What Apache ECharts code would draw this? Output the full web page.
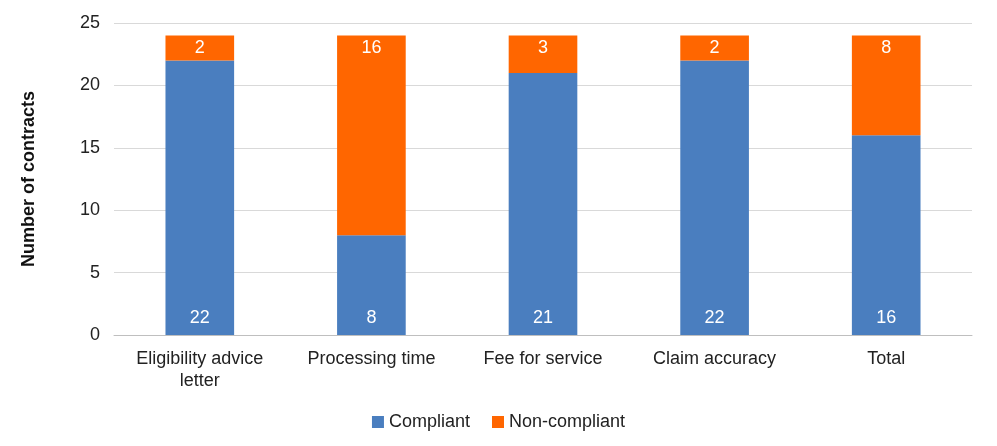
<!DOCTYPE html>
<html>
<head>
<meta charset="utf-8">
<script src="https://cdn.jsdelivr.net/npm/echarts@6/dist/echarts.min.js"></script>
<style>html,body{margin:0;padding:0;background:#fff}#c{width:997px;height:446px}</style>
</head>
<body>
<div id="c"></div>
<script>
const categories = ['Eligibility advice\nletter', 'Processing time', 'Fee for service', 'Claim accuracy', 'Total']
const compliant = [22, 8, 21, 22, 16]
const nonCompliant = [2, 16, 3, 2, 8]

const font = 'Liberation Sans, Arial, sans-serif'
const chart = echarts.init(document.getElementById('c'))
chart.setOption({
  animation: false,
  textStyle: { fontFamily: font },
  grid: { left: 114, right: 25, top: 23, bottom: 111 },
  legend: {
    bottom: 10,
    itemWidth: 12, itemHeight: 12, itemGap: 22,
    icon: 'rect',
    textStyle: { fontSize: 18, color: '#222', fontFamily: font },
    data: ['Compliant', 'Non-compliant']
  },
  xAxis: {
    type: 'category',
    data: categories,
    axisTick: { show: false },
    axisLine: { lineStyle: { color: '#bfbfbf' } },
    axisLabel: { fontSize: 18, color: '#222', lineHeight: 22, margin: 13 }
  },
  yAxis: {
    type: 'value',
    min: 0, max: 25, interval: 5,
    name: 'Number of contracts',
    nameLocation: 'middle',
    nameGap: 76,
    nameTextStyle: { fontSize: 18, fontWeight: 'bold', color: '#111' },
    axisLabel: { fontSize: 18, color: '#222', margin: 14 },
    splitLine: { lineStyle: { color: '#d9d9d9' } }
  },
  series: [
    {
      name: 'Compliant', type: 'bar', stack: 'a', data: compliant,
      barWidth: '40%',
      itemStyle: { color: '#4a7ebf' },
      label: { show: true, position: 'insideBottom', distance: 8, color: '#fff', fontSize: 18 }
    },
    {
      name: 'Non-compliant', type: 'bar', stack: 'a', data: nonCompliant,
      itemStyle: { color: '#ff6600' },
      label: { show: true, position: 'insideTop', distance: 4, color: '#fff', fontSize: 18 }
    }
  ]
})
</script>
</body>
</html>
